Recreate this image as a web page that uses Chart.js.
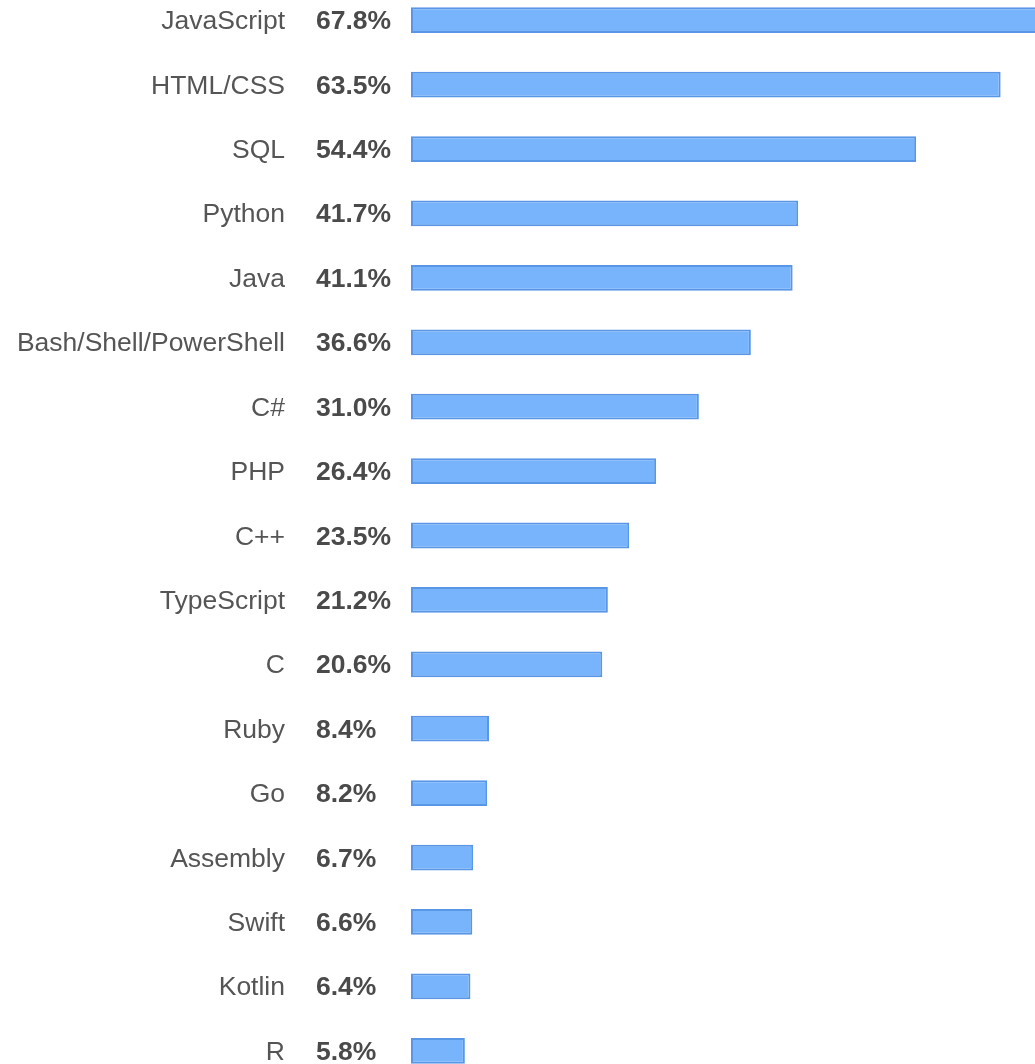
<!DOCTYPE html>
<html lang="en">
<head>
    <meta charset="UTF-8">
    <title>Most Popular Languages</title>
    <style>
        body {
            margin: 0;
            padding: 0;
            background: #fff;
            overflow: hidden;
        }

        /* the chart is shifted up a little so the first bar sits at the very top */
        .chart-box {
            position: absolute;
            top: -12px;
            left: 0;
            width: 1035px;
            height: 1095px;
        }
    </style>
    <script src="https://cdn.jsdelivr.net/npm/chart.js"></script>
</head>
<body>
    <div class="chart-box">
        <canvas id="langChart"></canvas>
    </div>

    <script>
        // Languages and share of respondents (%)
        const languages = ['JavaScript', 'HTML/CSS', 'SQL', 'Python', 'Java', 'Bash/Shell/PowerShell', 'C#', 'PHP', 'C++', 'TypeScript', 'C', 'Ruby', 'Go', 'Assembly', 'Swift', 'Kotlin', 'R'];
        const shares = [67.8, 63.5, 54.4, 41.7, 41.1, 36.6, 31.0, 26.4, 23.5, 21.2, 20.6, 8.4, 8.2, 6.7, 6.6, 6.4, 5.8];
        const shareLabels = ['67.8%', '63.5%', '54.4%', '41.7%', '41.1%', '36.6%', '31.0%', '26.4%', '23.5%', '21.2%', '20.6%', '8.4%', '8.2%', '6.7%', '6.6%', '6.4%', '5.8%'];

        // Draws the language name and the bold percentage left of each bar
        const rowLabels = {
            id: 'rowLabels',
            afterDraw(chart) {
                const ctx = chart.ctx;
                const yScale = chart.scales.y;
                const left = chart.chartArea.left;
                ctx.save();
                ctx.textBaseline = 'alphabetic';
                languages.forEach((name, i) => {
                    const y = yScale.getPixelForValue(i) + 9;
                    ctx.fillStyle = '#555555';
                    ctx.font = '26.5px "Liberation Sans", Arial, sans-serif';
                    ctx.textAlign = 'right';
                    ctx.fillText(name, left - 126, y);
                    ctx.fillStyle = '#4a4a4a';
                    ctx.font = 'bold 26.5px "Liberation Sans", Arial, sans-serif';
                    ctx.textAlign = 'left';
                    ctx.fillText(shareLabels[i], left - 95, y);
                });
                ctx.restore();
            }
        };

        const config = {
            type: 'bar',
            data: {
                labels: languages,
                datasets: [{
                    data: shares,
                    backgroundColor: '#78b4fc',
                    borderColor: '#5996e6',
                    borderWidth: 2,
                    borderSkipped: false,
                    barPercentage: 0.4,
                    categoryPercentage: 1.0
                }]
            },
            options: {
                indexAxis: 'y',
                responsive: true,
                maintainAspectRatio: false,
                animation: false,
                layout: {
                    padding: { left: 411, right: 0, top: 0, bottom: 0 }
                },
                plugins: {
                    legend: { display: false },
                    tooltip: { enabled: false }
                },
                scales: {
                    x: {
                        display: false,
                        min: 0,
                        max: 67.2
                    },
                    y: {
                        display: false
                    }
                }
            },
            plugins: [rowLabels]
        };

        const langChart = new Chart(document.getElementById('langChart'), config);
    </script>
</body>
</html>
